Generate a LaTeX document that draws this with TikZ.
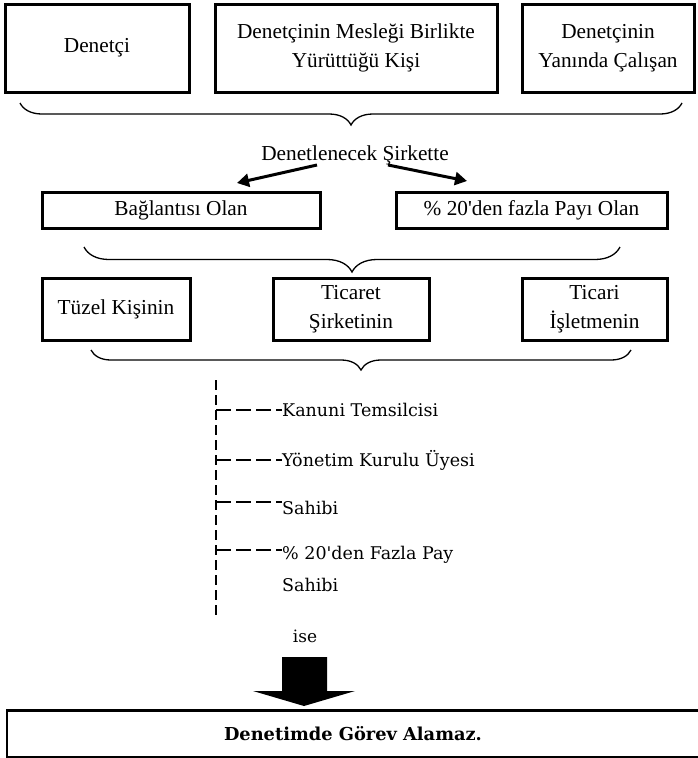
\documentclass[tikz,border=0pt]{standalone}
\usepackage{fontspec}
\setmainfont{Liberation Serif}[Ligatures=TeXOff]
\newfontfamily\labelfont{DejaVu Serif}[Ligatures=TeXOff]
\usetikzlibrary{decorations.pathreplacing,arrows.meta,calc}

\tikzset{
  box/.style={draw, line width=3pt, inner sep=0pt, align=center,
    font=\fontsize{21.3}{29}\selectfont},
  plain/.style={inner sep=0pt, align=center, font=\fontsize{21.3}{29}\selectfont},
  leaf/.style={inner sep=0pt, anchor=west, align=left,
    font=\labelfont\fontsize{17.5}{32}\selectfont},
  curly/.style={line width=1.3pt, decorate,
    decoration={brace, amplitude=#1}},
  thickarrow/.style={line width=3pt, -{Triangle[length=12pt,width=13pt]}},
  trunk/.style={line width=2.5pt, dash pattern=on 10pt off 5pt},
  twig/.style={line width=2.6pt, dash pattern=on 15pt off 5pt},
}

\begin{document}
\begin{tikzpicture}[x=1pt, y=-1pt]
\useasboundingbox (0,0) rectangle (697,758);

% top row
\node[box, minimum width=184pt, minimum height=88pt] (p1) at (97,48) {Denetçi};
\node[box, minimum width=282pt, minimum height=88pt] (p2) at (356,48)
  {Denetçinin Mesleği Birlikte\\Yürüttüğü Kişi};
\node[box, minimum width=172pt, minimum height=88pt] (p3) at (608,48)
  {Denetçinin\\Yanında Çalışan};

\coordinate (br1a) at (682,103);
\coordinate (br1b) at (20,103);
\draw[curly=22pt] (br1a) -- (br1b);

% company relation
\node[plain] (rel) at (355,155) {Denetlenecek Şirkette};
\coordinate (ls) at (317,165);
\coordinate (rs) at (388,165);
\coordinate (lt) at (237,183);
\coordinate (rt) at (467,181);
\node[box, minimum width=278pt, minimum height=36pt] (c1) at (181,210) {Bağlantısı Olan};
\node[box, minimum width=271pt, minimum height=36pt] (c2) at (531.5,210) {\% 20'den fazla Payı Olan};
\draw[thickarrow] (ls) -- (lt);
\draw[thickarrow] (rs) -- (rt);

\coordinate (br2a) at (620,247);
\coordinate (br2b) at (84,247);
\draw[curly=25pt] (br2a) -- (br2b);

% kinds of entity
\node[box, minimum width=148pt, minimum height=62pt] (e1) at (116,309) {Tüzel Kişinin};
\node[box, minimum width=156pt, minimum height=62pt] (e2) at (351,309) {Ticaret\\Şirketinin};
\node[box, minimum width=145pt, minimum height=62pt] (e3) at (594.5,309) {Ticari\\İşletmenin};

\coordinate (br3a) at (631,350);
\coordinate (br3b) at (91,350);
\draw[curly=20pt] (br3a) -- (br3b);

% roles
\coordinate (vtop) at (216,380);
\coordinate (vbot) at (216,615);
\draw[trunk] (vtop) -- (vbot);

\node[leaf] (r1) at (282,410) {Kanuni Temsilcisi};
\node[leaf] (r2) at (282,460) {Yönetim Kurulu Üyesi};
\node[leaf] (r3) at (282,508) {Sahibi};
\node[leaf] (r4) at (282,569) {\% 20'den Fazla Pay\\Sahibi};

\coordinate (j1) at (216,410);
\coordinate (j2) at (216,460);
\coordinate (j3) at (216,502);
\coordinate (j4) at (216,550);
\draw[twig] (j1) -- (j1 -| r1.west);
\draw[twig] (j2) -- (j2 -| r2.west);
\draw[twig] (j3) -- (j3 -| r3.west);
\draw[twig] (j4) -- (j4 -| r4.west);

% conclusion
\node[inner sep=0pt, font=\labelfont\fontsize{17}{20}\selectfont] (ise) at (305,636) {ise};
\fill (282,657) -- (327,657) -- (327,691) -- (355,691) -- (304,706)
  -- (253,691) -- (282,691) -- cycle;

\node[draw, line width=1.4pt, minimum width=692pt, minimum height=46pt, inner sep=0pt,
  font=\labelfont\bfseries\fontsize{17.8}{20}\selectfont] (res) at (353,734)
  {Denetimde Görev Alamaz.};
\draw[line width=3pt] (res.north west) -- (res.north east);
\end{tikzpicture}
\end{document}
